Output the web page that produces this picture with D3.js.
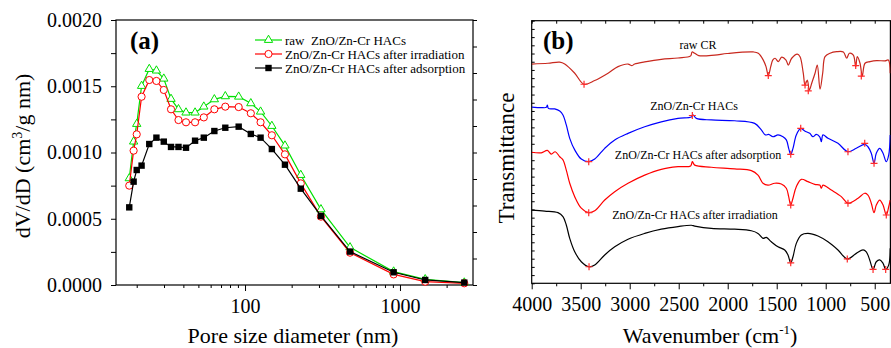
<!DOCTYPE html>
<html>
<head>
<meta charset="utf-8">
<script src="https://cdn.jsdelivr.net/npm/d3@7"></script>
<style>
  body { margin: 0; background: #fff; }
  svg { display: block; font-family: "Liberation Serif", "Times New Roman", serif; }
  .tick text { font-size: 20px; fill: #000; font-family: "Liberation Serif", serif; }
  .tick line { stroke: #000; stroke-width: 1; }
  .domain { display: none; }
</style>
</head>
<body>
<div id="chart"></div>
<script>
// ---------- panel (a): pore size distribution ----------
const poreSize = [17.9, 19.1, 20.0, 21.5, 24.1, 26.8, 29.9, 33.3, 37.2, 41.6, 47.6, 54.2, 63.4,
                  74.6, 91.0, 109, 126, 149, 181, 229, 309, 476, 910, 1455, 2600];
const rawHAC = [0.000805, 0.001082, 0.001215, 0.001502, 0.001630, 0.001618, 0.001557, 0.001404, 0.001326,
                0.001301, 0.001301, 0.001346, 0.001401, 0.001424, 0.001421, 0.001371, 0.001308, 0.001200,
                0.001052, 0.000830, 0.000571, 0.000284, 0.000101, 0.000043, 0.000018];
const irradHAC = [0.000750, 0.001014, 0.001137, 0.001421, 0.001547, 0.001540, 0.001472, 0.001326, 0.001245,
                  0.001228, 0.001228, 0.001265, 0.001326, 0.001346, 0.001343, 0.001296, 0.001228, 0.001130,
                  0.000986, 0.000767, 0.000516, 0.000244, 0.000080, 0.000025, 0.000013];
const adsorbHAC = [0.000586, 0.000780, 0.000868, 0.000901, 0.001064, 0.001112, 0.001082, 0.001042, 0.001042,
                   0.001036, 0.001089, 0.001112, 0.001162, 0.001187, 0.001195, 0.001140, 0.001112, 0.001026,
                   0.000908, 0.000727, 0.000521, 0.000252, 0.000096, 0.000038, 0.000018];
const seriesNames = ['raw  ZnO/Zn-Cr HACs', 'ZnO/Zn-Cr HACs after irradiation', 'ZnO/Zn-Cr HACs after adsorption'];

// ---------- panel (b): FTIR spectra [wavenumber, transmittance a.u.] ----------
const rawCR = [[4000, 83.5], [3834, 83.8], [3714, 84.2], [3663, 83.5], [3561, 80.0], [3466, 75.8], [3357, 77.2],
  [3221, 80.0], [3119, 82.5], [3017, 83.5], [2977, 82.9], [2949, 83.5], [2847, 84.3], [2678, 85.3], [2507, 85.8],
  [2378, 86.6], [2364, 88.1], [2337, 87.6], [2296, 86.7], [2133, 86.9], [2007, 87.5], [1739, 88.1], [1688, 87.6],
  [1637, 85.0], [1609, 82.5], [1586, 79.1], [1561, 82.5], [1541, 85.0], [1517, 85.7], [1484, 84.4], [1449, 86.1],
  [1405, 85.0], [1382, 83.1], [1347, 85.7], [1290, 87.3], [1262, 86.3], [1229, 80.0], [1211, 75.5], [1188, 77.4],
  [1167, 73.6], [1143, 76.2], [1109, 80.0], [1086, 83.1], [1058, 73.9], [1031, 80.0], [1007, 86.3], [956, 87.6],
  [888, 88.2], [820, 88.1], [786, 85.7], [759, 87.6], [718, 86.9], [694, 82.5], [678, 86.3], [650, 83.8],
  [627, 78.9], [599, 83.8], [548, 84.4], [480, 84.8], [395, 84.7], [361, 85.0], [342, 80.0]];
const hacs = [[4000, 67.1], [3902, 66.9], [3850, 67.0], [3840, 67.9], [3830, 66.6], [3765, 66.4], [3714, 65.6],
  [3681, 64.1], [3647, 60.3], [3612, 55.2], [3561, 50.8], [3494, 47.3], [3418, 46.3], [3357, 47.3], [3255, 51.4],
  [3153, 54.6], [3017, 57.1], [2847, 59.6], [2678, 61.5], [2507, 62.8], [2371, 63.3], [2354, 64.1], [2320, 62.8],
  [2167, 62.2], [1929, 61.9], [1725, 60.9], [1657, 58.4], [1616, 56.5], [1582, 56.7], [1538, 55.8], [1487, 56.5],
  [1436, 55.8], [1402, 54.6], [1378, 51.4], [1357, 49.1], [1334, 51.4], [1300, 56.5], [1255, 59.0], [1214, 58.0],
  [1163, 57.1], [1130, 55.8], [1096, 56.7], [1061, 55.8], [1045, 53.9], [1028, 56.5], [977, 55.2], [875, 53.3],
  [773, 50.1], [688, 51.4], [602, 52.9], [569, 52.0], [535, 49.5], [507, 45.7], [484, 49.5], [449, 51.4],
  [415, 49.5], [382, 46.3], [357, 48.9], [342, 56.5]];
const hacsAdsorb = [[4000, 49.9], [3902, 49.7], [3840, 50.6], [3800, 49.2], [3760, 50.1], [3714, 48.2], [3681, 47.0],
  [3647, 43.1], [3612, 38.1], [3561, 33.0], [3494, 28.6], [3418, 26.9], [3357, 27.6], [3255, 31.7], [3153, 34.9],
  [3017, 38.1], [2847, 41.2], [2678, 43.4], [2507, 44.4], [2378, 44.7], [2361, 46.3], [2337, 45.0], [2167, 44.2],
  [1929, 43.6], [1759, 42.9], [1691, 41.2], [1640, 38.1], [1589, 37.4], [1520, 38.1], [1453, 37.8], [1402, 36.2],
  [1378, 33.0], [1357, 29.8], [1334, 32.4], [1300, 36.8], [1249, 39.6], [1181, 38.7], [1112, 37.7], [1061, 37.4],
  [1045, 36.2], [1028, 37.4], [943, 35.5], [841, 33.0], [773, 30.5], [670, 32.4], [602, 34.3], [569, 33.6],
  [535, 30.5], [507, 26.9], [484, 29.8], [449, 31.7], [415, 29.8], [382, 26.0], [357, 29.2], [342, 31.7]];
const hacsIrrad = [[4000, 27.9], [3867, 27.5], [3732, 26.9], [3681, 25.4], [3647, 22.2], [3612, 17.1], [3561, 12.0],
  [3494, 8.2], [3415, 6.3], [3357, 7.0], [3255, 10.8], [3153, 13.9], [3017, 16.8], [2847, 19.0], [2678, 20.6],
  [2507, 21.6], [2371, 22.1], [2337, 21.8], [2167, 20.9], [1929, 20.6], [1759, 20.0], [1691, 19.0], [1640, 17.1],
  [1606, 17.5], [1555, 15.8], [1487, 13.9], [1418, 12.7], [1385, 10.8], [1357, 7.8], [1334, 10.1], [1300, 15.2],
  [1249, 18.4], [1181, 19.0], [1079, 18.0], [977, 15.8], [875, 12.7], [780, 9.3], [688, 11.4], [619, 12.7],
  [586, 12.0], [551, 8.9], [517, 5.3], [484, 8.2], [449, 8.9], [415, 7.6], [388, 5.3], [357, 7.0], [342, 13.3]];
// marked bands
const rawCRPeaks = [[3466, 75.8], [1586, 79.1], [1211, 75.5], [1178, 73.3], [694, 82.9], [637, 78.9]];
const hacsPeaks = [[3418, 46.3], [2361, 63.9], [1357, 49.1], [1255, 59.0], [773, 50.1], [602, 53.3], [507, 45.7]];
const adsorbPeaks = [[3418, 26.9], [1357, 29.8], [773, 30.5], [382, 26.0]];
const irradPeaks = [[3415, 6.3], [1357, 7.8], [780, 9.3], [517, 5.3], [388, 5.3]];

const W = 891, H = 348;
const svg = d3.select('#chart').append('svg')
    .attr('width', W)
    .attr('height', H);

// ================= panel (a) =================
const aBox = { left: 116, right: 473, top: 20, bottom: 285 };
const xA = d3.scaleLog().domain([14.7, 2960]).range([aBox.left, aBox.right]);
const yA = d3.scaleLinear().domain([0, 0.002]).range([aBox.bottom, aBox.top]);

// left axis: ticks every 0.00025, labels every 0.0005
const yTicksA = d3.range(0, 9).map(i => i * 0.00025);
svg.append('g')
    .attr('transform', `translate(${aBox.left},0)`)
    .call(d3.axisLeft(yA).tickValues(yTicksA)
        .tickFormat((d, i) => i % 2 === 0 ? d3.format('.4f')(d) : '')
        .tickSize(5).tickPadding(9));

// right axis ticks (no labels)
svg.append('g')
    .attr('transform', `translate(${aBox.right},0)`)
    .call(d3.axisRight(yA).tickValues(d3.range(0, 11).map(i => i * 0.0002)).tickFormat('').tickSize(4));

// bottom axis: log decades + minor ticks
svg.append('g')
    .attr('transform', `translate(0,${aBox.bottom})`)
    .call(d3.axisBottom(xA).tickValues([100, 1000]).tickFormat(d3.format('d')).tickSize(6).tickPadding(8));
const minorA = [20, 30, 40, 50, 60, 70, 80, 90, 200, 300, 400, 500, 600, 700, 800, 900, 2000];
svg.append('g')
    .attr('transform', `translate(0,${aBox.bottom})`)
    .call(d3.axisBottom(xA).tickValues(minorA).tickFormat('').tickSize(3));

// frame
svg.append('rect')
    .attr('x', aBox.left).attr('y', aBox.top)
    .attr('width', aBox.right - aBox.left).attr('height', aBox.bottom - aBox.top)
    .attr('fill', 'none').attr('stroke', '#000').attr('stroke-width', 1.2);

const lineA = d3.line().x(d => xA(d[0])).y(d => yA(d[1]));
const seriesA = [
    { name: seriesNames[0], values: rawHAC, color: '#00e000', marker: 'triangle' },
    { name: seriesNames[1], values: irradHAC, color: '#ff0000', marker: 'circle' },
    { name: seriesNames[2], values: adsorbHAC, color: '#000000', marker: 'square' }
];

function drawMarker(g, type, color) {
    if (type === 'triangle') {
        g.append('path').attr('d', d3.symbol(d3.symbolTriangle, 30)())
            .attr('fill', '#fff').attr('stroke', color).attr('stroke-width', 1);
    } else if (type === 'circle') {
        g.append('circle').attr('r', 3.6)
            .attr('fill', '#fff').attr('stroke', color).attr('stroke-width', 1);
    } else {
        g.append('rect').attr('x', -3.2).attr('y', -3.2).attr('width', 6.4).attr('height', 6.4)
            .attr('fill', color);
    }
}

seriesA.forEach(s => {
    const pts = poreSize.map((x, i) => [x, s.values[i]]);
    svg.append('path')
        .attr('d', lineA(pts))
        .attr('fill', 'none').attr('stroke', s.color).attr('stroke-width', 1.2);
    pts.forEach(p => {
        const g = svg.append('g').attr('transform', `translate(${xA(p[0])},${yA(p[1])})`);
        drawMarker(g, s.marker, s.color);
    });
});

// legend
seriesA.forEach((s, i) => {
    const ly = 40 + i * 14;
    svg.append('line')
        .attr('x1', 255).attr('x2', 282).attr('y1', ly).attr('y2', ly)
        .attr('stroke', s.color).attr('stroke-width', 1.2);
    drawMarker(svg.append('g').attr('transform', `translate(268.5,${ly})`), s.marker, s.color);
    svg.append('text')
        .attr('x', 285).attr('y', ly + 4.5)
        .attr('font-size', 13)
        .attr('xml:space', 'preserve')
        .style('white-space', 'pre')
        .text(s.name);
});

svg.append('text')
    .attr('x', 130).attr('y', 49)
    .attr('font-size', 25).attr('font-weight', 'bold')
    .text('(a)');

// axis titles
const yTitleA = svg.append('text')
    .attr('transform', 'translate(30,156) rotate(-90)')
    .attr('text-anchor', 'middle')
    .attr('font-size', 22);
yTitleA.append('tspan').text('dV/dD (cm');
yTitleA.append('tspan').attr('font-size', 14).attr('dy', -8).text('3');
yTitleA.append('tspan').attr('dy', 8).text('/g nm)');

svg.append('text')
    .attr('x', 293).attr('y', 343)
    .attr('text-anchor', 'middle')
    .attr('font-size', 22)
    .text('Pore size diameter (nm)');

// ================= panel (b) =================
const bBox = { left: 531.7, right: 890.4, top: 20.7, bottom: 283.3 };
const xB = d3.scaleLinear().domain([4000, 340]).range([bBox.left, bBox.right]);
const yB = d3.scaleLinear().domain([0, 100]).range([bBox.bottom, bBox.top]);

const majorB = [4000, 3500, 3000, 2500, 2000, 1500, 1000, 500];
const minorB = [3750, 3250, 2750, 2250, 1750, 1250, 750];

svg.append('g')
    .attr('transform', `translate(0,${bBox.bottom})`)
    .call(d3.axisBottom(xB).tickValues(majorB).tickFormat(d3.format('d')).tickSize(6).tickPadding(8));
svg.append('g')
    .attr('transform', `translate(0,${bBox.bottom})`)
    .call(d3.axisBottom(xB).tickValues(minorB).tickFormat('').tickSize(3));
// inward ticks along top
svg.append('g')
    .attr('transform', `translate(0,${bBox.top})`)
    .call(d3.axisBottom(xB).tickValues(majorB.concat(minorB)).tickFormat('').tickSize(3));
// inward ticks along left side
svg.append('g')
    .attr('transform', `translate(${bBox.left},0)`)
    .call(d3.axisRight(yB).tickValues(d3.range(0, 33).map(i => i * 100 / 32)).tickFormat('').tickSize(3));

svg.append('rect')
    .attr('x', bBox.left).attr('y', bBox.top)
    .attr('width', bBox.right - bBox.left).attr('height', bBox.bottom - bBox.top)
    .attr('fill', 'none').attr('stroke', '#000').attr('stroke-width', 1.2);

svg.append('clipPath').attr('id', 'clipB')
    .append('rect')
    .attr('x', bBox.left).attr('y', bBox.top)
    .attr('width', bBox.right - bBox.left).attr('height', bBox.bottom - bBox.top);

const gB = svg.append('g').attr('clip-path', 'url(#clipB)');
const lineB = d3.line().x(d => xB(d[0])).y(d => yB(d[1])).curve(d3.curveCatmullRom.alpha(0.5));

const spectra = [
    { values: rawCR, peaks: rawCRPeaks, color: '#c8281e' },
    { values: hacs, peaks: hacsPeaks, color: '#0000ff' },
    { values: hacsAdsorb, peaks: adsorbPeaks, color: '#ff0000' },
    { values: hacsIrrad, peaks: irradPeaks, color: '#000000' }
];

spectra.forEach(s => {
    gB.append('path')
        .attr('d', lineB(s.values))
        .attr('fill', 'none').attr('stroke', s.color).attr('stroke-width', 1.2);
});
spectra.forEach(s => {
    gB.selectAll(null)
        .data(s.peaks)
        .enter()
        .append('path')
        .attr('transform', d => `translate(${xB(d[0])},${yB(d[1])})`)
        .attr('d', 'M-3.5,0H3.5M0,-3.5V3.5')
        .attr('stroke', '#ff2a2a').attr('stroke-width', 1.2);
});

// spectrum labels
const specLabels = [
    { text: 'raw CR', x: 698, y: 49 },
    { text: 'ZnO/Zn-Cr HACs', x: 694, y: 110 },
    { text: 'ZnO/Zn-Cr HACs after adsorption', x: 698, y: 158.5 },
    { text: 'ZnO/Zn-Cr HACs after irradiation', x: 695, y: 219 }
];
svg.selectAll('.spec-label')
    .data(specLabels)
    .enter()
    .append('text')
    .attr('class', 'spec-label')
    .attr('x', d => d.x).attr('y', d => d.y)
    .attr('text-anchor', 'middle')
    .attr('font-size', 12)
    .text(d => d.text);

svg.append('text')
    .attr('x', 543).attr('y', 49)
    .attr('font-size', 25).attr('font-weight', 'bold')
    .text('(b)');

svg.append('text')
    .attr('transform', 'translate(514,158) rotate(-90)')
    .attr('text-anchor', 'middle')
    .attr('font-size', 23)
    .text('Transmittance');

const xTitleB = svg.append('text')
    .attr('x', 710).attr('y', 343)
    .attr('text-anchor', 'middle')
    .attr('font-size', 22);
xTitleB.append('tspan').text('Wavenumber (cm');
xTitleB.append('tspan').attr('font-size', 13).attr('dy', -9).text('-1');
xTitleB.append('tspan').attr('dy', 9).text(')');
</script>
</body>
</html>
